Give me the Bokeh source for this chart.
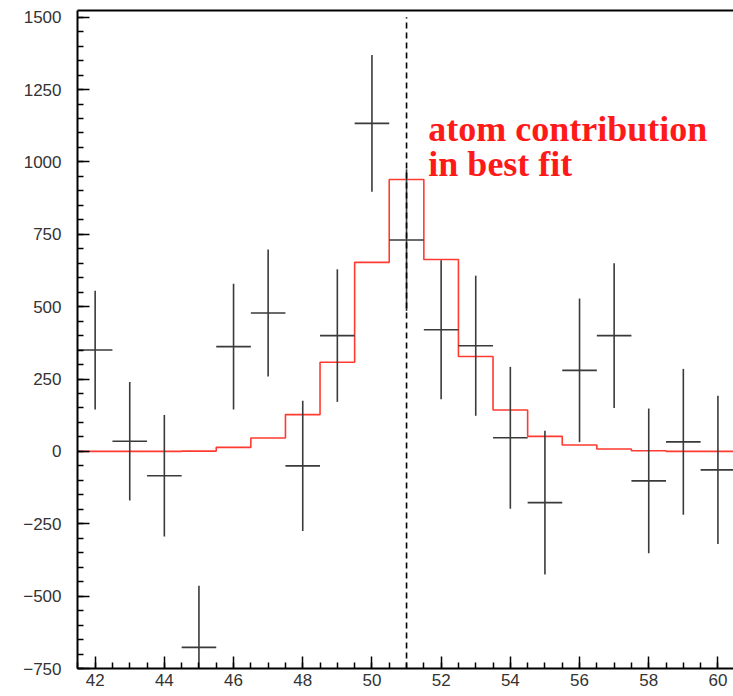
from bokeh.plotting import figure
from bokeh.models import (Range1d, LinearAxis, SingleIntervalTicker, FixedTicker,
                          ColumnDataSource)
from bokeh.core.properties import value
from bokeh.embed import file_html
from bokeh.resources import INLINE

# ---- data ----
bin_centers = [42, 43, 44, 45, 46, 47, 48, 49, 50, 51, 52, 53, 54, 55, 56, 57, 58, 59, 60]
counts      = [350, 35, -84, -677, 362, 478, -50, 400, 1133, 730, 420, 365, 47, -177, 280, 400, -102, 33, -64]
count_errs  = [205, 205, 210, 213, 217, 219, 225, 229, 236, 245, 240, 242, 245, 248, 248, 250, 250, 252, 256]
bin_half_width = 0.5
atom_fit    = [0, 0, 0, 1, 14, 46, 127, 308, 653, 939, 663, 328, 143, 52, 22, 8, 2, 0, 0]
fit_position = 51
label_lines = ["atom contribution", "in best fit"]
label_x = 51.63
label_y = [1114, 993]

x_lo, x_hi = 41.49, 60.45
y_lo, y_hi = -750, 1523
dash_top = 1500

p = figure(width=733, height=696, output_backend="svg", toolbar_location=None,
           x_range=Range1d(x_lo, x_hi), y_range=Range1d(y_lo, y_hi),
           min_border_left=77, min_border_right=0, min_border_top=10,
           min_border_bottom=28, x_axis_type=None, y_axis_type=None)
p.outline_line_color = None
p.xgrid.visible = False
p.ygrid.visible = False
p.background_fill_color = "white"
p.border_fill_color = "white"

def style_axis(ax, standoff):
    ax.axis_line_color = "black"
    ax.axis_line_width = 2
    ax.major_tick_line_color = "black"
    ax.minor_tick_line_color = "black"
    ax.major_tick_line_width = 1.5
    ax.minor_tick_line_width = 1.5
    ax.major_tick_in = 12
    ax.major_tick_out = 0
    ax.minor_tick_in = 6
    ax.minor_tick_out = 0
    ax.major_label_text_font = "Liberation Sans"
    ax.major_label_text_font_size = "17px"
    ax.major_label_text_color = "#333333"
    ax.major_label_standoff = standoff

xa = LinearAxis(ticker=SingleIntervalTicker(interval=2, num_minor_ticks=4))
style_axis(xa, 5)
p.add_layout(xa, "below")

ya = LinearAxis(ticker=SingleIntervalTicker(interval=250, num_minor_ticks=5))
style_axis(ya, 16)
p.add_layout(ya, "left")

top = LinearAxis(ticker=FixedTicker(ticks=[]))
top.axis_line_color = "black"
top.axis_line_width = 2
top.major_tick_line_color = None
top.minor_tick_line_color = None
top.major_label_text_font_size = "0px"
p.add_layout(top, "above")

# ---- red histogram (best fit atom contribution) ----
edges = [c - bin_half_width for c in bin_centers] + [bin_centers[-1] + bin_half_width]
step_vals = atom_fit + [atom_fit[-1]]
p.step(x=edges, y=step_vals, mode="after", line_color="#ff3b30", line_width=1.6)

# ---- data points with error bars ----
src = ColumnDataSource(dict(
    x=bin_centers,
    y=counts,
    xl=[c - bin_half_width for c in bin_centers],
    xr=[c + bin_half_width for c in bin_centers],
    yl=[v - e for v, e in zip(counts, count_errs)],
    yh=[v + e for v, e in zip(counts, count_errs)],
))
p.segment(x0="x", y0="yl", x1="x", y1="yh", source=src, line_color="#3a3a3a", line_width=1.6)
p.segment(x0="xl", y0="y", x1="xr", y1="y", source=src, line_color="#3a3a3a", line_width=1.6)

# ---- dashed line at best-fit position ----
p.segment(x0=[fit_position], y0=[y_lo], x1=[fit_position], y1=[dash_top],
          line_color="black", line_width=1.6, line_dash="6 4")

# ---- label ----
p.text(x=[label_x] * len(label_lines), y=label_y, text=label_lines,
       text_font=value("Liberation Serif"), text_font_style="bold",
       text_font_size="36px", text_color="#ff1a1a",
       text_align="left", text_baseline="alphabetic")

open("out.html", "w").write(file_html(p, INLINE))
